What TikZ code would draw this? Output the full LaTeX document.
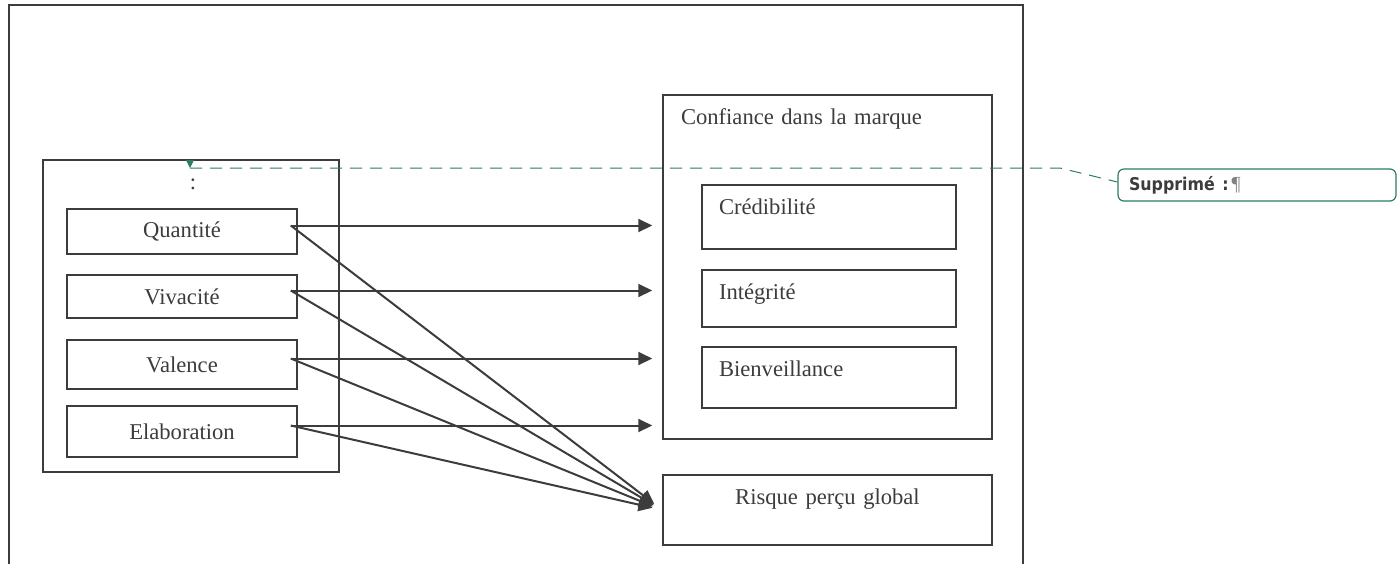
\documentclass[tikz,border=0pt]{standalone}
\usepackage{xcolor}
\usepackage{fontspec}
\setmainfont{Liberation Serif}
\newfontfamily\notefont{DejaVu Sans Condensed}
\usetikzlibrary{arrows.meta, positioning, calc}
\definecolor{ink}{HTML}{3C3C3C}
\definecolor{revision}{HTML}{2E7D5E}

\begin{document}
\begin{tikzpicture}[
    x=0.5pt, y=-0.5pt,
    every node/.style={text=ink, font=\fontsize{11.3}{13}\selectfont},
    dim/.style={rectangle, draw=ink, line width=0.75pt, inner sep=0pt, minimum width=115pt, align=center},
    group/.style={rectangle, draw=ink, line width=0.75pt, inner sep=0pt},
    topbox/.style={rectangle, draw=ink, line width=0.75pt, inner ysep=0pt, text height=14.5pt, align=left},
    arr/.style={draw=ink, line width=1pt, -{Triangle[length=7pt,width=6.5pt]}, shorten >=5pt},
    note/.style={rectangle, rounded corners=3pt, draw=revision, line width=0.6pt, inner xsep=5.5pt, inner ysep=0pt,
        minimum height=16pt, text width=128pt, align=left},
]
\useasboundingbox (0,0) rectangle (1398,564);

% outer frame (runs off the page at the bottom)
\draw[ink, line width=0.75pt] (9,564) |- (1023,5) -- (1023,564);

% left block
\node[group, minimum width=148pt, minimum height=156pt] (wom) at (191,316) {};
\node (colon) at (193,184) {:};
\node[dim, minimum height=22.5pt] (quant) at (182,231.5) {Quantité};
\node[dim, minimum height=21.5pt] (viva) at (182,296.5) {Vivacité};
\node[dim, minimum height=24.5pt] (val) at (182,364.5) {Valence};
\node[dim, minimum height=25.5pt] (elab) at (182,431.5) {Elaboration};

% right block
\node[topbox, inner xsep=9pt, text width=146.5pt, text depth=157.5pt] (conf) at (827.5,267) {Confiance dans la marque};
\node[topbox, inner xsep=8.5pt, text width=110pt, text depth=17.5pt] (cred) at (829,217) {Crédibilité};
\node[topbox, inner xsep=8.5pt, text width=110pt, text depth=14pt] (integ) at (829,298.5) {Intégrité};
\node[topbox, inner xsep=8.5pt, text width=110pt, text depth=16pt] (bien) at (829,377.5) {Bienveillance};
\node[topbox, inner xsep=0pt, text width=164.5pt, text depth=20.5pt, align=center] (risk) at (827.5,510) {Risque perçu global};

% links
\foreach \n in {quant, viva, val, elab} {
    \coordinate (\n out) at ([xshift=-3.5pt, yshift=3pt]\n.east);
    \draw[arr] (\n out) -- (\n out -| conf.west);
    \draw[arr] (\n out) -- (risk.west);
}

% revision mark
\coordinate (mark) at (190,168);
\coordinate (bend) at (1060,168);
\node[note] (deleted) at (1257,185) {{\notefont\fontsize{8.8}{10}\selectfont\bfseries Supprimé :\,}{\color{gray}\fontsize{10}{10}\selectfont ¶}};
\fill[revision] ([xshift=-2pt, yshift=4pt]mark) -- ([xshift=2pt, yshift=4pt]mark) -- (mark) -- cycle;
\draw[revision, line width=0.5pt, dash pattern=on 6pt off 4pt] (mark) -- (bend) -- ([yshift=1.5pt]deleted.west);

\end{tikzpicture}
\end{document}
